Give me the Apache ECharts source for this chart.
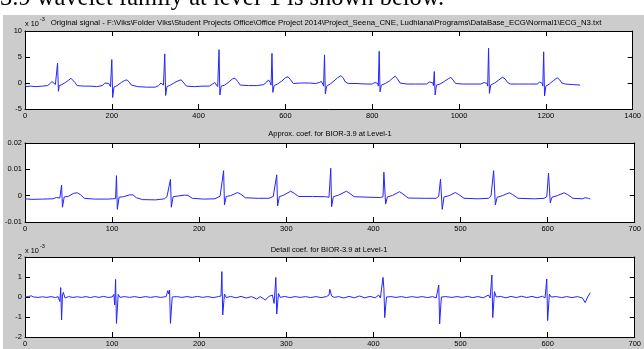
<!DOCTYPE html>
<html>
<head>
<meta charset="utf-8">
<script src="https://cdn.jsdelivr.net/npm/echarts@6/dist/echarts.min.js"></script>
<style>
html,body{margin:0;padding:0;background:#fff;}
#c{width:644px;height:349px;}
</style>
</head>
<body>
<div id="c"></div>
<script>
// ---------- text ----------
var headerText = '3.9 wavelet family at level-1 is shown below.';
var titleOriginal = 'Original signal - F:\\Viks\\Folder Viks\\Student Projects Office\\Office Project 2014\\Project_Seena_CNE, Ludhiana\\Programs\\DataBase_ECG\\Normal1\\ECG_N3.txt';
var titleApprox = 'Approx. coef. for BIOR-3.9 at Level-1';
var titleDetail = 'Detail coef. for BIOR-3.9 at Level-1';

// ---------- axes ----------
var origXRange = [0, 1400, 200];
var origYRange = [-5, 10, 5];        // x 10^-3
var coefXRange = [0, 700, 100];
var approxYRange = [-0.01, 0.02, 0.01];
var detailYRange = [-2, 2, 1];       // x 10^-3

// ---------- data: [sample, value] ----------
// original signal (x 10^-3)
var origSignal = [
[0,-0.3],[3,-0.7],[12,-0.6],[25,-0.7],[40,-0.6],[52,-0.5],[58,-0.1],[62,0.3],[66,0.1],[70,-0.3],[73,-0.6],[75,3.8],[77,-1.6],[79,-0.5],[85,-0.3],[93,0.1],[100,0.5],[106,0.9],[110,0.8],[115,0.1],[120,-0.5],[135,-0.6],[150,-0.6],[165,-0.7],
[178,-0.5],[184,0.0],[188,0.2],[193,-0.1],[197,-0.7],[200,4.5],[202,-2.8],[205,-0.8],[212,-0.5],[222,0.1],[230,0.5],[235,0.6],[240,0.2],[245,-0.4],[260,-0.7],[280,-0.8],[300,-0.8],
[308,-0.5],[313,0.0],[316,0.1],[319,-0.4],[322,5.6],[324,-2.4],[327,-0.7],[335,-0.4],[345,0.1],[355,0.5],[360,0.6],[366,0.0],[372,-0.6],[390,-0.7],[410,-0.6],[425,-0.6],
[432,-0.2],[437,0.1],[441,-0.2],[444,-0.7],[447,6.4],[449,-2.3],[452,-0.6],[460,-0.4],[470,0.2],[478,0.8],[484,0.9],[490,0.3],[496,-0.4],[515,-0.5],[535,-0.5],[550,-0.3],
[557,0.2],[561,0.6],[565,0.1],[567,-0.4],[569,5.7],[571,-1.8],[574,-0.5],[582,-0.2],[592,0.4],[600,1.0],[606,1.2],[612,0.6],[618,-0.1],[635,0.0],[655,0.0],[670,-0.1],
[678,0.1],[683,0.3],[686,-0.2],[688,-0.6],[690,5.4],[692,-2.1],[695,-0.6],[703,-0.2],[712,0.4],[720,1.0],[728,1.4],[733,1.0],[738,0.2],[745,-0.1],[765,-0.1],[785,-0.2],[800,-0.2],
[806,0.1],[810,0.3],[813,-0.1],[814,-0.6],[816,6.1],[818,-1.7],[821,-0.4],[830,-0.1],[840,0.4],[848,1.0],[853,1.3],[858,0.8],[864,0.0],[880,-0.2],[900,-0.2],[925,-0.2],
[932,0.2],[936,0.45],[940,0.0],[941,-0.5],[943,2.2],[945,-2.3],[948,-0.4],[956,-0.2],[966,0.3],[975,0.8],[981,1.1],[986,0.6],[992,-0.1],[1010,-0.2],[1030,-0.2],[1050,-0.2],
[1058,0.1],[1062,0.3],[1065,-0.1],[1066,-0.6],[1068,6.7],[1070,-2.0],[1073,-0.4],[1082,0.0],[1092,0.6],[1100,1.1],[1106,0.8],[1112,0.1],[1118,-0.2],[1140,-0.2],[1160,-0.2],[1180,-0.2],
[1186,0.2],[1190,0.45],[1192,-0.1],[1193,-0.6],[1195,6.0],[1197,-2.5],[1200,-0.6],[1208,-0.2],[1218,0.5],[1226,1.0],[1231,0.7],[1237,0.0],[1245,-0.2],[1262,-0.3],[1279,-0.4]
];

// approximation coefficients
var approxCoef = [
[0,-0.0012],[8,-0.0014],[20,-0.0013],[32,-0.0012],[36,-0.0007],[38,-0.0003],[40,-0.0009],[42,0.0040],[43,-0.0044],[45,-0.0005],[50,-0.0002],[56,0.0009],[60,0.0011],[64,0.0003],[68,-0.0010],[80,-0.0013],[95,-0.0013],
[100,-0.0012],[102,-0.0007],[104,-0.0011],[105,0.0076],[106,-0.0052],[108,-0.0006],[113,-0.0004],[120,0.0003],[124,0.0003],[128,-0.0008],[135,-0.0015],[150,-0.0016],[160,-0.0012],
[163,-0.0004],[165,-0.0008],[167,0.0062],[168,-0.0044],[170,-0.0004],[176,-0.0001],[183,0.0002],[187,0.0001],[192,-0.0010],[205,-0.0013],[218,-0.0012],
[224,-0.0002],[226,-0.0006],[228,0.0095],[229,-0.0035],[231,-0.0003],[236,0.0000],[244,0.0012],[248,0.0005],[253,-0.0008],[268,-0.0010],[280,-0.0010],
[285,-0.0003],[287,-0.0008],[289,0.0079],[290,-0.0039],[292,-0.0004],[297,0.0002],[305,0.0017],[309,0.0009],[314,-0.0003],[330,-0.0003],[345,-0.0004],
[349,-0.0006],[351,0.0104],[352,-0.0042],[354,-0.0004],[360,0.0002],[369,0.0017],[373,0.0008],[378,-0.0004],[395,-0.0006],[408,-0.0007],
[411,-0.0004],[412,0.0089],[414,-0.0032],[416,-0.0005],[422,0.0001],[430,0.0015],[434,0.0006],[440,-0.0009],[460,-0.0010],[472,-0.0010],
[475,-0.0002],[476,-0.0007],[477,0.0063],[479,-0.0052],[481,-0.0005],[487,0.0000],[494,0.0012],[498,0.0004],[504,-0.0010],[520,-0.0012],[532,-0.0010],
[535,-0.0001],[536,-0.0008],[538,0.0095],[540,-0.0035],[542,-0.0006],[548,0.0000],[556,0.0011],[560,0.0004],[566,-0.0010],[585,-0.0012],[596,-0.0010],
[599,-0.0004],[600,-0.0008],[601,0.0086],[603,-0.0027],[605,-0.0006],[611,0.0000],[619,0.0011],[623,0.0004],[629,-0.0010],[640,-0.0012],[643,-0.0008],[645,-0.0014],[647,-0.0010],[649,-0.0013]
];

// detail coefficients (x 10^-3)
var detailCoef = [
[0,0.0],[4,0.02],[7,0.06],[10,0.0],[15,-0.02],[20,0.01],[25,-0.02],[30,0.02],[35,-0.03],[38,0.02],[40,-0.23],[41,0.47],[42,-1.15],[43,0.1],[44,0.23],[46,-0.05],
[50,0.02],[55,-0.02],[60,0.01],[65,-0.02],[70,0.02],[75,-0.03],[80,0.02],[85,-0.02],[90,0.03],[95,-0.02],[100,0.0],[102,0.13],[103,-0.4],[104,0.88],[105,-1.32],[107,0.13],[109,-0.02],
[114,0.02],[120,-0.02],[126,0.02],[132,-0.03],[138,0.02],[144,-0.02],[150,0.02],[156,-0.02],[162,0.02],[164,0.32],[165,0.15],[166,0.35],[167,-1.32],[169,0.0],
[174,0.02],[180,-0.02],[186,0.02],[192,-0.02],[198,0.03],[204,-0.02],[210,0.02],[216,-0.03],[222,0.02],[225,0.05],[226,1.27],[227,-0.9],[229,0.15],[231,-0.03],
[236,0.03],[242,-0.04],[248,0.03],[254,-0.05],[260,0.02],[266,-0.1],[270,0.02],[276,-0.15],[280,0.03],[284,0.1],[286,-0.32],[288,0.98],[289,-0.85],[291,0.18],[293,-0.02],
[298,0.03],[304,-0.03],[310,0.02],[316,-0.02],[322,0.02],[328,-0.03],[334,0.02],[340,-0.03],[346,0.02],[349,0.1],[350,0.38],[352,0.05],[355,-0.02],
[360,0.02],[366,-0.05],[372,0.03],[378,-0.04],[384,0.05],[390,-0.04],[396,0.03],[402,-0.04],[406,0.1],[408,-0.05],[410,0.0],[411,0.98],[412,0.43],[413,-1.03],[415,0.0],
[420,0.02],[426,-0.02],[432,0.02],[438,-0.03],[444,0.02],[450,-0.02],[456,0.02],[462,-0.03],[468,0.02],[472,-0.05],[475,0.6],[476,-1.35],[478,0.0],
[483,0.02],[490,-0.02],[496,0.02],[502,-0.02],[508,0.03],[514,-0.03],[520,0.02],[526,-0.04],[532,0.1],[534,-0.05],[536,1.1],[537,-1.03],[539,0.27],[541,0.0],
[546,0.03],[552,-0.04],[558,0.03],[564,-0.03],[570,0.04],[576,-0.03],[582,0.03],[588,-0.04],[594,0.04],[597,-0.05],[599,0.9],[600,-1.18],[602,0.15],[604,0.0],
[610,0.02],[616,-0.03],[622,0.02],[628,-0.03],[634,0.02],[640,-0.05],[643,-0.28],[646,0.0],[649,0.22]
];

// ---------- build ----------
var FONT = '"Liberation Sans", Arial, sans-serif';
var grids = [
  {left:25, top:31, width:611, height:78},
  {left:25, top:143, width:611, height:79},
  {left:25, top:257, width:611, height:80}
];
var xr = [origXRange, coefXRange, coefXRange];
var yr = [origYRange, approxYRange, detailYRange];
var seriesData = [origSignal, approxCoef, detailCoef];
function plain(v){ return String(v); }

var xAxes = [], yAxes = [], series = [];
grids.forEach(function(g, i){
  g.show = true; g.backgroundColor = '#ffffff'; g.borderWidth = 0;
  ['bottom','top'].forEach(function(pos){
    xAxes.push({
      gridIndex:i, type:'value', position:pos, min:xr[i][0], max:xr[i][1], interval:xr[i][2],
      axisLine:{show:true, onZero:false, lineStyle:{color:'#000', width:1}},
      axisTick:{show:true, inside:true, length:5, lineStyle:{color:'#000', width:1}},
      axisLabel:{show:pos==='bottom', fontSize:7.5, fontFamily:FONT, color:'#000', margin:3, formatter:plain},
      splitLine:{show:false}
    });
  });
  ['left','right'].forEach(function(pos){
    yAxes.push({
      gridIndex:i, type:'value', position:pos, min:yr[i][0], max:yr[i][1], interval:yr[i][2],
      axisLine:{show:true, onZero:false, lineStyle:{color:'#000', width:1}},
      axisTick:{show:true, inside:true, length:5, lineStyle:{color:'#000', width:1}},
      axisLabel:{show:pos==='left', fontSize:7.5, fontFamily:FONT, color:'#000', margin:3, formatter:plain},
      splitLine:{show:false}
    });
  });
  series.push({
    type:'line', xAxisIndex:2*i, yAxisIndex:2*i, data:seriesData[i],
    showSymbol:false, symbol:'none', silent:true, animation:false,
    lineStyle:{color:'#2424ff', width:1}
  });
});

function txt(x, y, s, size, align, family){
  return {type:'text', x:x, y:y, silent:true, z:10,
    style:{text:s, fontSize:size, fontFamily:family||FONT, fill:'#000', align:align||'left', verticalAlign:'middle'}};
}

var graphics = [
  {type:'rect', shape:{x:3, y:15, width:641, height:334}, style:{fill:'#cccccc'}, z:-100, silent:true},
  txt(0, -1.5, headerText, 24.5, 'left', '"Liberation Serif", "Times New Roman", serif'),
  txt(326, 22.5, titleOriginal, 7.8, 'center'),
  txt(330, 134, titleApprox, 7.5, 'center'),
  txt(329, 249.5, titleDetail, 7.5, 'center'),
  txt(25, 23.5, 'x 10', 7.3, 'left'),
  txt(40, 19.5, '-3', 5.5, 'left'),
  txt(25, 250.5, 'x 10', 7.3, 'left'),
  txt(40, 246.5, '-3', 5.5, 'left')
];

var chart = echarts.init(document.getElementById('c'), null, {renderer:'canvas'});
chart.setOption({
  animation:false,
  backgroundColor:'#ffffff',
  grid:grids,
  xAxis:xAxes,
  yAxis:yAxes,
  series:series,
  graphic:graphics
});
</script>
</body>
</html>
